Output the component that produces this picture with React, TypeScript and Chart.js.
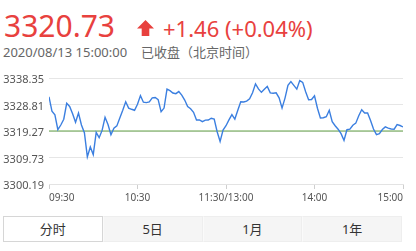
import React, { useEffect, useRef } from "react";
import { Chart, registerables } from "chart.js";
Chart.register(...registerables);

const lastPrice = "3320.73";
const changeText = "+1.46 (+0.04%)";
const timestampText = "2020/08/13 15:00:00";
const statusText = "已收盘（北京时间）";
const prevClose = 3319.27;
const yTicks = [3300.19, 3309.73, 3319.27, 3328.81, 3338.35];
const xTickMinutes = [0, 60, 120, 180, 240];
const xTickLabels = ["09:30", "10:30", "11:30/13:00", "14:00", "15:00"];
const stepMinutes = 2;
const prices = [
  3331.57, 3326.41, 3325.12, 3319.74, 3321.42, 3323.5, 3329.24, 3328.09, 3325.47, 3322.43,
  3325.73, 3321.46, 3318.66, 3309.95, 3313.5, 3310.77, 3318.73, 3316.87, 3319.49, 3324.22,
  3321.6, 3317.94, 3320.27, 3321.1, 3323.93, 3326.73, 3329.78, 3327.52, 3327.09, 3326.73,
  3328.88, 3332.0, 3329.64, 3329.49, 3329.78, 3331.21, 3331.32, 3330.57, 3326.19, 3327.52,
  3334.33, 3333.8, 3332.93, 3332.72, 3333.47, 3332.18, 3330.42, 3328.06, 3327.27, 3326.01,
  3323.25, 3323.29, 3322.64, 3323.18, 3323.22, 3323.86, 3323.57, 3319.02, 3315.54, 3319.63,
  3321.17, 3323.25, 3325.19, 3323.57, 3326.73, 3329.78, 3329.71, 3330.03, 3330.85, 3333.01,
  3336.23, 3334.44, 3333.19, 3334.26, 3335.34, 3333.01, 3332.86, 3333.01, 3331.21, 3327.52,
  3331.11, 3335.7, 3337.06, 3335.7, 3334.33, 3337.42, 3336.77, 3333.37, 3330.5, 3330.6,
  3331.93, 3327.45, 3323.97, 3324.04, 3324.4, 3326.73, 3322.61, 3321.17, 3319.92, 3318.3,
  3315.9, 3319.74, 3319.92, 3321.35, 3322.1, 3324.76, 3326.91, 3325.73, 3325.73, 3323.07,
  3319.99, 3317.94, 3318.3, 3319.81, 3320.74, 3320.31, 3319.99, 3319.92, 3321.57, 3321.24,
  3320.73,
];
const tabs = ["分时", "5日", "1月", "1年"];

const RED = "#e8413e";
const FONT = '"Noto Sans", "Noto Sans CJK SC", sans-serif';

export default function App() {
  const ref = useRef<HTMLCanvasElement | null>(null);

  useEffect(() => {
    if (!ref.current) return;
    const lastMinute = (prices.length - 1) * stepMinutes;
    const chart = new Chart(ref.current, {
      type: "line",
      data: {
        datasets: [
          {
            data: prices.map((p, i) => ({ x: i * stepMinutes, y: p })),
            borderColor: "#3b7fe0",
            borderWidth: 1.4,
            pointRadius: 0,
            tension: 0,
            order: 1,
          },
          {
            data: [
              { x: 0, y: prevClose },
              { x: lastMinute, y: prevClose },
            ],
            borderColor: "#64a349",
            borderWidth: 1,
            pointRadius: 0,
            order: 2,
          },
        ],
      },
      options: {
        animation: false,
        responsive: false,
        maintainAspectRatio: false,
        events: [],
        layout: { padding: { top: 16, right: 13, left: 0, bottom: 0 } },
        plugins: { legend: { display: false }, tooltip: { enabled: false } },
        scales: {
          x: {
            type: "linear",
            min: 0,
            max: lastMinute,
            afterBuildTicks: (s: any) => {
              s.ticks = xTickMinutes.map((v) => ({ value: v }));
            },
            afterFit: (s: any) => {
              s.height = 26;
            },
            grid: { drawOnChartArea: false, drawTicks: true, tickLength: 5, color: "#cfcfcf" },
            border: { display: true, color: "#e3e3e3" },
            ticks: {
              autoSkip: false,
              maxRotation: 0,
              align: "inner",
              padding: 3,
              color: "#555",
              font: { size: 10, family: FONT },
              callback: (v: any) => {
                const idx = xTickMinutes.indexOf(Number(v));
                return idx >= 0 ? xTickLabels[idx] : "";
              },
            },
          },
          y: {
            min: yTicks[0],
            max: yTicks[yTicks.length - 1],
            afterBuildTicks: (s: any) => {
              s.ticks = yTicks.map((v) => ({ value: v }));
            },
            afterFit: (s: any) => {
              s.width = 49;
            },
            grid: { drawTicks: false, color: "#e6e6e6" },
            border: { display: false },
            ticks: {
              padding: 5,
              labelOffset: 2,
              color: "#555",
              font: { size: 11, family: FONT },
              callback: (v: any) => Number(v).toFixed(2),
            },
          },
        },
      },
    });
    return () => chart.destroy();
  }, []);

  return (
    <div
      style={{
        position: "absolute",
        left: 0,
        top: 0,
        width: 416,
        height: 251,
        background: "#fff",
        fontFamily: FONT,
        overflow: "hidden",
      }}
    >
      <div
        style={{
          position: "absolute",
          left: 4,
          top: 11,
          fontSize: 30,
          lineHeight: "30px",
          color: RED,
          whiteSpace: "nowrap",
        }}
      >
        {lastPrice}
      </div>
      <svg
        style={{ position: "absolute", left: 137, top: 20 }}
        width={17}
        height={16}
        viewBox="0 0 17 16"
      >
        <polygon points="8.5,0 17,8.5 12.3,8.5 12.3,16 4.7,16 4.7,8.5 0,8.5" fill={RED} />
      </svg>
      <div
        style={{
          position: "absolute",
          left: 163,
          top: 17,
          fontSize: 22,
          lineHeight: "22px",
          color: RED,
          whiteSpace: "nowrap",
        }}
      >
        {changeText}
      </div>
      <div
        style={{
          position: "absolute",
          left: 3,
          top: 46,
          fontSize: 13,
          lineHeight: "13px",
          color: "#666",
          whiteSpace: "nowrap",
        }}
      >
        {timestampText}
      </div>
      <div
        style={{
          position: "absolute",
          left: 141,
          top: 46,
          fontSize: 13,
          lineHeight: "13px",
          color: "#666",
          whiteSpace: "nowrap",
        }}
      >
        {statusText}
      </div>
      <canvas
        ref={ref}
        width={416}
        height={148}
        style={{ position: "absolute", left: 0, top: 62, width: 416, height: 148 }}
      />
      <div
        style={{
          position: "absolute",
          left: 3,
          top: 216,
          width: 399,
          height: 26,
          display: "flex",
        }}
      >
        {tabs.map((t, i) => (
          <div
            key={t}
            style={{
              flex: 1,
              boxSizing: "border-box",
              border: i === 0 ? "1px solid #d6d6d6" : "1px solid #eeeeee",
              borderLeft: i === 0 ? "1px solid #d6d6d6" : "1px solid #fafafa",
              background: i === 0 ? "#fff" : "#f5f5f5",
              color: "#333",
              fontSize: 13,
              lineHeight: "24px",
              textAlign: "center",
            }}
          >
            {t}
          </div>
        ))}
      </div>
    </div>
  );
}
